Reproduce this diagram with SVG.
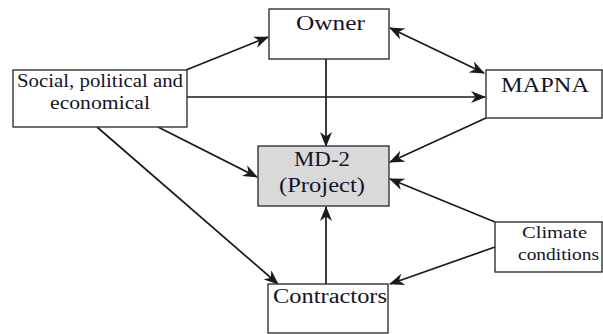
<svg xmlns="http://www.w3.org/2000/svg" width="603" height="334" viewBox="0 0 603 334">
<style>
.box{fill:#fff;stroke:#333;stroke-width:1.4}
.proj{fill:#d9d9d9;stroke:#333;stroke-width:1.4}
.t{fill:#141428}
.c{stroke:#1a1a1a;stroke-width:1.7;fill:none;marker-end:url(#ah)}
</style>
<defs>
<marker id="ah" viewBox="0 0 15 12" refX="14" refY="6" markerWidth="15" markerHeight="12" markerUnits="userSpaceOnUse" orient="auto-start-reverse">
<path d="M0,0 L15,6 L0,12 L4.5,6 z" fill="#1a1a1a"/>
</marker>
</defs>
<g id="connectors">
<line class="c" x1="186" y1="70" x2="268" y2="37"/>
<line class="c" x1="187" y1="97" x2="485" y2="97"/>
<line class="c" x1="326" y1="59" x2="326" y2="146"/>
<line class="c" x1="390" y1="28" x2="484" y2="73" style="marker-start:url(#ah)"/>
<line class="c" x1="486" y1="118" x2="390" y2="162"/>
<line class="c" x1="158" y1="127" x2="257" y2="177"/>
<line class="c" x1="97" y1="127" x2="278" y2="284"/>
<line class="c" x1="326" y1="284" x2="326" y2="207"/>
<line class="c" x1="495" y1="222" x2="390" y2="179"/>
<line class="c" x1="495" y1="247" x2="390" y2="284"/>
</g>
<g font-family="Liberation Serif, Times New Roman, Times, serif">
<g id="owner">
<rect class="box" x="269" y="9" width="120" height="50"/>
<text class="t" x="296" y="30" font-size="20" textLength="69" lengthAdjust="spacingAndGlyphs">Owner</text>
</g>
<g id="social">
<rect class="box" x="13" y="70" width="174" height="57"/>
<text class="t" x="17" y="87" font-size="18" textLength="166" lengthAdjust="spacingAndGlyphs">Social, political and</text>
<text class="t" x="50" y="109" font-size="18" textLength="100" lengthAdjust="spacingAndGlyphs">economical</text>
</g>
<g id="mapna">
<rect class="box" x="486" y="70" width="116" height="48"/>
<text class="t" x="501" y="92" font-size="21" textLength="88" lengthAdjust="spacingAndGlyphs">MAPNA</text>
</g>
<g id="project">
<rect class="proj" x="258" y="146" width="131" height="60"/>
<text class="t" x="294" y="166" font-size="20" textLength="56" lengthAdjust="spacingAndGlyphs">MD-2</text>
<text class="t" x="279" y="192" font-size="20" textLength="86" lengthAdjust="spacingAndGlyphs">(Project)</text>
</g>
<g id="contractors">
<rect class="box" x="268" y="284" width="120" height="49"/>
<text class="t" x="273" y="303" font-size="20" textLength="114" lengthAdjust="spacingAndGlyphs">Contractors</text>
</g>
<g id="climate">
<rect class="box" x="495" y="222" width="107" height="50"/>
<text class="t" x="522" y="238" font-size="17" textLength="65" lengthAdjust="spacingAndGlyphs">Climate</text>
<text class="t" x="518" y="260" font-size="17" textLength="81" lengthAdjust="spacingAndGlyphs">conditions</text>
</g>
</g>
</svg>
